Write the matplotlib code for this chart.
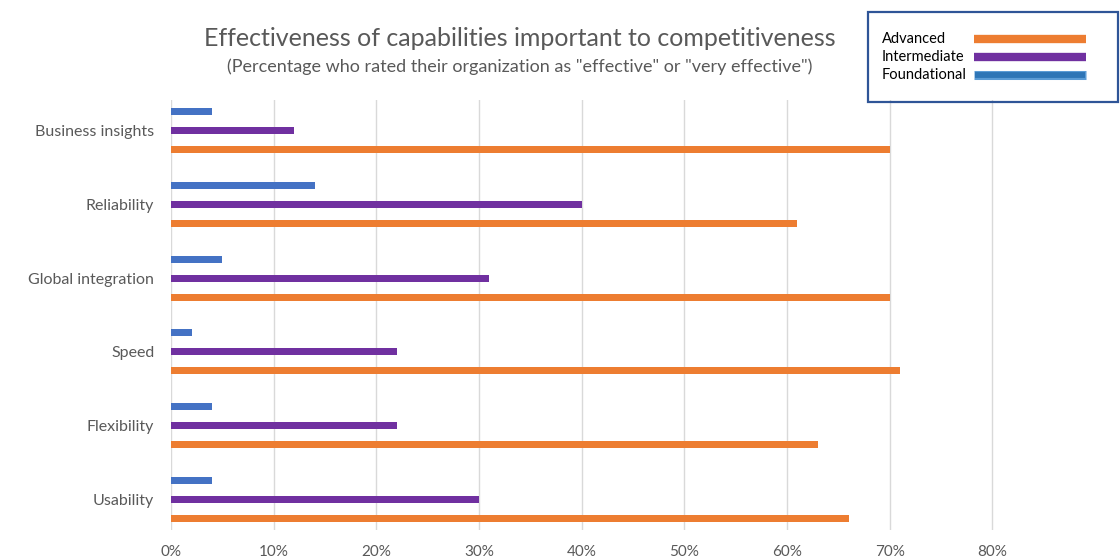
import numpy as np
import matplotlib
matplotlib.use("Agg")
import matplotlib.pyplot as plt
from matplotlib.lines import Line2D
from matplotlib.patches import Rectangle

plt.rcParams['font.family'] = ['Lato', 'DejaVu Sans']

# Data (percent who rated their organization effective / very effective)
categories = ["Business insights", "Reliability", "Global integration",
              "Speed", "Flexibility", "Usability"]
foundational = [4, 14, 5, 2, 4, 4]
intermediate = [12, 40, 31, 22, 22, 30]
advanced = [70, 61, 70, 71, 63, 66]
xticks = [0, 10, 20, 30, 40, 50, 60, 70, 80]
series_names = ["Advanced", "Intermediate", "Foundational"]

c_adv = "#ED7D31"
c_int = "#7030A0"
c_fnd = "#4472C4"
grey = "#595959"

W, H = 1120, 560
fig = plt.figure(figsize=(11.2, 5.6), dpi=100)
ax = fig.add_axes([171 / W, 1 - 530 / H, (1095 - 171) / W, 430 / H])

y = np.arange(len(categories))
off = 19 / 74
h = 7 / 74
ax.barh(y - off, foundational, height=h, color=c_fnd, zorder=3)
ax.barh(y, intermediate, height=h, color=c_int, zorder=3)
ax.barh(y + off, advanced, height=h, color=c_adv, zorder=3)

ax.set_ylim(len(categories) - 1 + 0.41, -0.41)
ax.set_xlim(0, 90)
ax.set_yticks(y)
ax.set_yticklabels(categories, fontsize=11.5, color=grey)
ax.set_xticks(xticks)
ax.set_xticklabels([f"{t}%" for t in xticks], fontsize=11, color=grey)
ax.tick_params(length=0)
ax.tick_params(axis='y', pad=12)
ax.tick_params(axis='x', pad=11)
ax.grid(axis='x', color="#D9D9D9", linewidth=1, zorder=0)
for s in ax.spines.values():
    s.set_visible(False)

fig.text(520 / W, 1 - 39 / H, "Effectiveness of capabilities important to competitiveness",
         ha='center', va='center', fontsize=18, color=grey)
fig.text(520 / W, 1 - 67 / H,
         '(Percentage who rated their organization as "effective" or "very effective")',
         ha='center', va='center', fontsize=13, color=grey)

# legend box, drawn by hand so labels stay left-aligned
fig.add_artist(Rectangle((868 / W, 1 - 102 / H), 250 / W, 90 / H,
                         transform=fig.transFigure, fill=False,
                         edgecolor="#2F5597", linewidth=1.6))
leg_y = [39, 57, 75]
for name, col, yy in zip(series_names, [c_adv, c_int, c_fnd], leg_y):
    fig.text(882 / W, 1 - yy / H, name, ha='left', va='center', fontsize=10.5, color="black")
    if name == "Foundational":
        fig.add_artist(Line2D([974 / W, 1086 / W], [1 - yy / H] * 2, transform=fig.transFigure,
                              color="#5B9BD5", lw=6.5, solid_capstyle='butt'))
        fig.add_artist(Line2D([975 / W, 1085 / W], [1 - yy / H] * 2, transform=fig.transFigure,
                              color="#2E75B6", lw=4.2, solid_capstyle='butt'))
    else:
        fig.add_artist(Line2D([974 / W, 1086 / W], [1 - yy / H] * 2, transform=fig.transFigure,
                              color=col, lw=6, solid_capstyle='butt'))

fig.savefig("out.png", dpi=100)
